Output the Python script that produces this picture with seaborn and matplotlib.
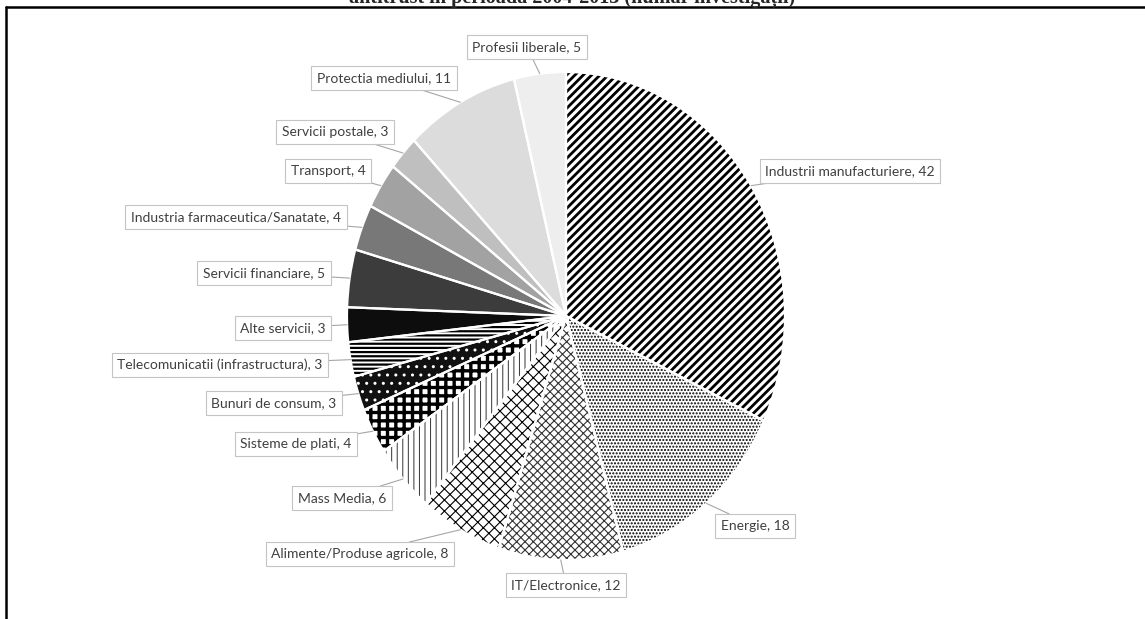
import numpy as np
import matplotlib
matplotlib.use('Agg')
import matplotlib.pyplot as plt
import seaborn as sns
from matplotlib.lines import Line2D

sns.set_style('white')
plt.rcParams['font.family'] = ['Lato', 'DejaVu Sans']

# data (clockwise from 12 o'clock)
sectors = [
    'Industrii manufacturiere',
    'Energie',
    'IT/Electronice',
    'Alimente/Produse agricole',
    'Mass Media',
    'Sisteme de plati',
    'Bunuri de consum',
    'Telecomunicatii (infrastructura)',
    'Alte servicii',
    'Servicii financiare',
    'Industria farmaceutica/Sanatate',
    'Transport',
    'Servicii postale',
    'Protectia mediului',
    'Profesii liberale',
]
cases = [42, 18, 12, 8, 6, 4, 3, 3, 3, 5, 4, 4, 3, 11, 5]
title = 'antitrust în perioada 2004-2013 (număr investigații)'

# face colour, hatch, hatch colour, hatch width
styles = [
    ('white', '////', 'black', 2.0),
    ('white', '.....', 'black', 1.0),
    ('white', 'xxxx', '#333333', 0.8),
    ('white', 'xxx', 'black', 0.8),
    ('white', '|||', '#333333', 0.7),
    ('white', '++', 'black', 2.4),
    ('#111111', '..', 'white', 1.0),
    ('white', '----', 'black', 1.6),
    ('#0d0d0d', '', 'black', 1.0),
    ('#3c3c3c', '', 'black', 1.0),
    ('#787878', '', 'black', 1.0),
    ('#a2a2a2', '', 'black', 1.0),
    ('#bfbfbf', '', 'black', 1.0),
    ('#dcdcdc', '', 'black', 1.0),
    ('#eeeeee', '', 'black', 1.0),
]

# label box centres in pixels (layout)
label_px = [(850, 171), (755, 526), (566, 585), (360, 554), (342, 498),
            (296, 444), (274, 403), (220, 365), (283, 328), (264, 273),
            (236, 217), (328, 171), (335, 132), (384, 78), (527, 47)]

W, H = 1145, 619
CX, CY, RX, RY = 566, 316, 219, 244


def px2data(px, py):
    return (px - CX) / RX, (CY - py) / RY


fig = plt.figure(figsize=(W / 100, H / 100), dpi=100)
ax = fig.add_axes([0, 0, 1, 1])

wedges, _ = ax.pie(cases, startangle=90, counterclock=False,
                   wedgeprops=dict(linewidth=0))
for w, (fc, hatch, hc, hlw) in zip(wedges, styles):
    w.set_facecolor(fc)
    w.set_edgecolor(hc)
    w.set_linewidth(0)
    if hatch:
        w.set_hatch(hatch)
        if hasattr(w, 'set_hatch_linewidth'):
            w.set_hatch_linewidth(hlw)

# white separators between slices
ax.pie(cases, startangle=90, counterclock=False,
       wedgeprops=dict(fill=False, edgecolor='white', linewidth=1.6))

ax.set_aspect('auto')
ax.set_xlim(-CX / RX, (W - CX) / RX)
ax.set_ylim(-(H - CY) / RY, CY / RY)
ax.set_axis_off()

for w, name, v, (px, py) in zip(wedges, sectors, cases, label_px):
    mid = np.deg2rad((w.theta1 + w.theta2) / 2)
    ax.annotate('{n}, {v}'.format(n=name, v=v),
                xy=(np.cos(mid), np.sin(mid)), xytext=px2data(px, py),
                ha='center', va='center', fontsize=10, color='#404040',
                bbox=dict(boxstyle='square,pad=0.4', fc='white',
                          ec='#c4c4c4', lw=0.8),
                arrowprops=dict(arrowstyle='-', color='#a6a6a6', lw=0.8,
                                shrinkA=0, shrinkB=0))

# frame and cut-off title
fig.add_artist(Line2D([6 / W, 1], [1 - 7 / H, 1 - 7 / H],
                      transform=fig.transFigure, color='black', lw=1.8))
fig.add_artist(Line2D([6 / W, 6 / W], [0, 1 - 7 / H],
                      transform=fig.transFigure, color='black', lw=1.8))
fig.text(572 / W, 1 - 3 / H, title, ha='center', va='baseline',
         fontsize=14.5, fontweight='bold', family='Liberation Serif')

fig.savefig('out.png', dpi=100)
